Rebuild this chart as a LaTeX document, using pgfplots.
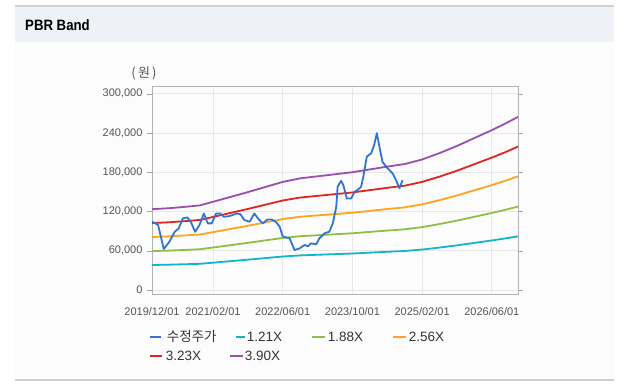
\documentclass[border=0pt]{standalone}
\usepackage{fontspec}
\setmainfont{Liberation Sans}
\newfontfamily\kr{Noto Sans CJK KR}
\usepackage{graphicx}
\usepackage{pgfplots}
\pgfplotsset{compat=1.18}
\definecolor{cprice}{HTML}{3374D0}
\definecolor{ccyan}{HTML}{12B5CB}
\definecolor{cgreen}{HTML}{8DBF4A}
\definecolor{corange}{HTML}{FFA41C}
\definecolor{cred}{HTML}{E0251F}
\definecolor{cpurple}{HTML}{9B4FAE}
\definecolor{hdr}{HTML}{EEF2F7}
\definecolor{body}{HTML}{FCFCFC}
\definecolor{bord}{HTML}{D0D0D0}
\definecolor{tick}{HTML}{555555}
\definecolor{gridc}{HTML}{E8E8E8}
\begin{document}
\begin{tikzpicture}[x=1pt,y=1pt]
\fill[white] (0,0) rectangle (622,391);
\fill[hdr] (15,349) rectangle (614,385);
\fill[body] (15,11) rectangle (614,349);
\draw[bord,line width=1.2pt] (15,385) -- (614,385);
\draw[bord,line width=1.2pt] (15,11) -- (614,11);
\node[anchor=west,inner sep=0pt] at (25,366) {\scalebox{0.88}[1]{\fontsize{15}{17}\selectfont\bfseries PBR Band}};
\node[anchor=center,inner sep=0pt,text=tick] at (144,318) {\kr\fontsize{13}{15}\selectfont (\,원\,)};
\begin{axis}[
  at={(152pt,97pt)}, anchor=south west, scale only axis,
  width=366pt, height=208pt,
  xmin=0, xmax=84, ymin=-6, ymax=312,
  xtick={0,14,30,46,62,78},
  xticklabels={2019/12/01,2021/02/01,2022/06/01,2023/10/01,2025/02/01,2026/06/01},
  ytick={0,60,120,180,240,300},
  yticklabels={0,{60,000},{120,000},{180,000},{240,000},{300,000}},
  tick label style={font=\fontsize{11}{13}\selectfont, text=tick},
  tick align=outside, major tick length=5pt,
  xtick style={draw=none},
  ytick style={draw=gray!70},
  xticklabel style={yshift=-5pt},
  yticklabel style={xshift=-1pt},
  grid=major, major grid style={gridc, line width=0.8pt},
  axis line style={draw=gray!60, line width=0.8pt},
  clip=true,
]
\addplot[ccyan, line width=1.8pt] coordinates {(0,38.36)(4,38.84)(8,39.57)(11,40.17)(14,41.87)(18,44.17)(22,46.46)(26,48.88)(30,51.30)(34,53.00)(38,53.97)(42,54.93)(46,55.90)(50,57.23)(54,58.56)(58,59.77)(62,61.95)(66,64.98)(70,68.37)(74,72.12)(78,75.87)(81,78.89)(84,82.16)};
\addplot[cgreen, line width=1.8pt] coordinates {(0,59.60)(4,60.35)(8,61.48)(11,62.42)(14,65.05)(18,68.62)(22,72.19)(26,75.95)(30,79.71)(34,82.34)(38,83.85)(42,85.35)(46,86.86)(50,88.92)(54,90.99)(58,92.87)(62,96.26)(66,100.96)(70,106.22)(74,112.05)(78,117.88)(81,122.58)(84,127.65)};
\addplot[corange, line width=1.8pt] coordinates {(0,81.15)(4,82.18)(8,83.71)(11,84.99)(14,88.58)(18,93.44)(22,98.30)(26,103.42)(30,108.54)(34,112.13)(38,114.18)(42,116.22)(46,118.27)(50,121.09)(54,123.90)(58,126.46)(62,131.07)(66,137.47)(70,144.64)(74,152.58)(78,160.51)(81,166.91)(84,173.82)};
\addplot[cred, line width=1.8pt] coordinates {(0,102.39)(4,103.68)(8,105.62)(11,107.24)(14,111.76)(18,117.90)(22,124.03)(26,130.49)(30,136.95)(34,141.47)(38,144.06)(42,146.64)(46,149.23)(50,152.78)(54,156.33)(58,159.56)(62,165.38)(66,173.45)(70,182.50)(74,192.51)(78,202.52)(81,210.60)(84,219.32)};
\addplot[cpurple, line width=1.8pt] coordinates {(0,123.63)(4,125.19)(8,127.53)(11,129.48)(14,134.94)(18,142.35)(22,149.76)(26,157.56)(30,165.36)(34,170.82)(38,173.94)(42,177.06)(46,180.18)(50,184.47)(54,188.76)(58,192.66)(62,199.68)(66,209.43)(70,220.35)(74,232.44)(78,244.53)(81,254.28)(84,264.81)};
\addplot[cprice, line width=1.8pt, line join=round] coordinates {(0,104.5)(0.5,103)(1.4,99.5)(2.7,62.8)(4,74)(5.2,89)(6.1,94)(7.1,109.7)(8.1,111)(8.9,104.5)(9.9,89)(10.9,99.5)(11.9,117)(12.8,102)(13.7,102)(14.7,117)(15.7,117)(16.5,112)(17.7,113)(19.5,117)(20.3,116)(21.2,107)(22.4,104.5)(23.5,117)(24.3,109.7)(25.4,102)(26.5,108)(27.4,108)(28.4,104.5)(29.3,97)(30,82)(31.6,79)(32.7,61.2)(33.9,63.8)(35,68.9)(35.8,67)(36.5,71.4)(37.7,70)(38.4,79)(39.6,86.7)(40.7,89.3)(41.5,102)(42.3,127.5)(42.6,158)(43.4,167)(43.9,160.7)(44.7,140)(45.7,140)(46.5,150.5)(47.2,153)(48,158)(48.5,173.4)(49.3,204)(50.3,209)(51,222)(51.6,240)(52.2,219)(52.9,196)(54.1,186)(55.2,178.6)(56,168)(56.8,155.6)(57.5,168)};
\end{axis}
% legend
\begin{scope}[line width=1.8pt]
\draw[cprice] (150,54) -- (161,54);
\node[anchor=west,inner sep=0pt,text=black!80] at (166,54.5) {\kr\fontsize{13.5}{15}\selectfont 수정주가};
\draw[ccyan] (236,54) -- (245,54);
\node[anchor=west,inner sep=0pt,text=black!80] at (246,54) {\fontsize{13.5}{15}\selectfont 1.21X};
\draw[cgreen] (312,54) -- (325,54);
\node[anchor=west,inner sep=0pt,text=black!80] at (327,54) {\fontsize{13.5}{15}\selectfont 1.88X};
\draw[corange] (393,54) -- (406,54);
\node[anchor=west,inner sep=0pt,text=black!80] at (408,54) {\fontsize{13.5}{15}\selectfont 2.56X};
\draw[cred] (150,35) -- (162,35);
\node[anchor=west,inner sep=0pt,text=black!80] at (165,35) {\fontsize{13.5}{15}\selectfont 3.23X};
\draw[cpurple] (230,35) -- (243,35);
\node[anchor=west,inner sep=0pt,text=black!80] at (244,35) {\fontsize{13.5}{15}\selectfont 3.90X};
\end{scope}
\end{tikzpicture}
\end{document}
